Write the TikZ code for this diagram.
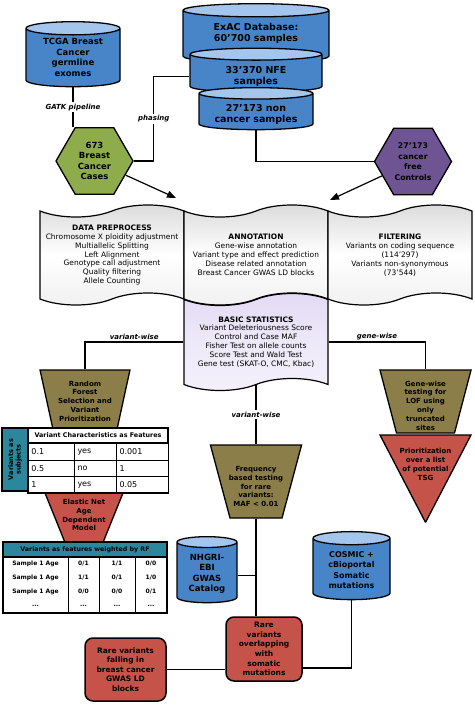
\documentclass[tikz,border=0pt]{standalone}
\usepackage{fontspec}
\setmainfont{DejaVu Sans}
\usepackage{tikz}
\usetikzlibrary{shapes.geometric,shapes.symbols,matrix,arrows.meta,calc}

\definecolor{canblue}{RGB}{72,133,200}
\definecolor{cantop}{RGB}{165,198,236}
\definecolor{casegreen}{RGB}{142,172,76}
\definecolor{ctrlpurple}{RGB}{110,84,146}
\definecolor{olivebox}{RGB}{139,126,72}
\definecolor{redbox}{RGB}{198,83,74}
\definecolor{tealcell}{RGB}{44,134,156}
\definecolor{tapegray}{RGB}{218,218,218}
\definecolor{lavender}{RGB}{226,218,244}

\begin{document}
\begin{tikzpicture}[x=1pt,y=1pt,yscale=-1,xscale=1,
	can/.style={cylinder, shape border rotate=90, draw=black, line width=1.3pt, cylinder uses custom fill, cylinder body fill=canblue, cylinder end fill=cantop, inner ysep=1pt},
	cantext/.style={align=center, inner sep=0pt, font=\bfseries\fontsize{8.5}{10.5}\selectfont},
	hexa/.style={regular polygon, regular polygon sides=6, minimum size=77pt, draw=black, line width=1.3pt, align=center, inner sep=0pt, font=\bfseries\fontsize{8.5}{10.5}\selectfont},
	banner/.style={tape, draw=black, line width=1.2pt, tape bend height=12pt, minimum width=144pt, minimum height=100pt, top color=tapegray, bottom color=tapegray!40, middle color=white, align=center, inner sep=0pt, font=\fontsize{7.5}{8.9}\selectfont},
	funnel/.style={trapezium, shape border rotate=180, draw=black, line width=1.3pt, fill=olivebox},
	funneltext/.style={align=center, inner sep=0pt, font=\bfseries\fontsize{7}{8.8}\selectfont},
	resultbox/.style={rectangle, rounded corners=8pt, draw=black, line width=1.5pt, fill=redbox, align=center, inner sep=0pt, font=\bfseries\fontsize{7.5}{9.6}\selectfont},
	conn/.style={draw=black, line width=1.2pt},
	arr/.style={conn, -{Triangle[length=9pt,width=7pt]}},
	lbl/.style={fill=white, inner sep=1.5pt, font=\bfseries\itshape\fontsize{7}{8}\selectfont},
	]
	\useasboundingbox (0,0) rectangle (474,706);
	
	%Shape: Can
	\node[can, inner xsep=47pt, aspect=0.14, minimum height=65pt, label={[cantext, yshift=3.6pt]center:TCGA Breast\\Cancer\\germline\\exomes}] (tcga) at (73,61.1) {};
	%Shape: Can
	\node[can, inner xsep=73pt, aspect=0.09, minimum height=59pt, label={[cantext, yshift=6.6pt, font=\bfseries\fontsize{9.5}{11.5}\selectfont]center:ExAC Database:\\60’700 samples}] (exac) at (256,40.1) {};
	%Shape: Can
	\node[can, inner xsep=66pt, aspect=0.09, minimum height=44pt, label={[cantext, font=\bfseries\fontsize{9.5}{11.5}\selectfont]center:33’370 NFE\\samples}] (nfe) at (256,76.5) {};
	%Shape: Can
	\node[can, inner xsep=57pt, aspect=0.1, minimum height=42pt, label={[cantext, font=\bfseries\fontsize{9.5}{11.5}\selectfont]center:27’173 non\\cancer samples}] (nonc) at (256,114.7) {};
	
	%Shape: Hexagon
	\node[hexa, fill=casegreen] (cases) at (94.5,161) {673\\Breast\\Cancer\\Cases};
	%Shape: Hexagon
	\node[hexa, fill=ctrlpurple, font=\bfseries\fontsize{7.8}{10.5}\selectfont] (ctrls) at (413,161.5) {27’173\\cancer\\free\\Controls};
	\coordinate (casein) at (176,198);
	\coordinate (ctrlin) at (330,200);
	
	% Connection
	\draw[conn] (tcga.south) -- (tcga.south |- cases.north) node[lbl, midway] {GATK pipeline};
	% Connection
	\draw[conn] (cases.east) -- ++(20,0) |- (nfe.west) node[lbl, pos=0.25] {phasing};
	% Connection
	\draw[conn] (nonc.south) |- (ctrls.west);
	% Connection
	\draw[arr] (cases) -- (casein);
	% Connection
	\draw[arr] (ctrls) -- (ctrlin);
	
	%Shape: Tape
	\node[banner] (prep) at (112,255) {\textbf{DATA PREPROCESS}\\Chromosome X ploidity adjustment\\Multiallelic Splitting\\Left Alignment\\Genotype call adjustment\\Quality filtering\\Allele Counting};
	%Shape: Tape
	\node[banner] (annot) at (256,255) {\textbf{ANNOTATION}\\Gene-wise annotation\\Variant type and effect prediction\\Disease related annotation\\Breast Cancer GWAS LD blocks};
	%Shape: Tape
	\node[banner] (filt) at (400,255) {\textbf{FILTERING}\\Variants on coding sequence\\(114’297)\\Variants non-synonymous\\(73’544)};
	%Shape: Tape
	\node[banner, minimum height=97pt, top color=lavender, bottom color=lavender!40, middle color=lavender!60] (stats) at (256,342) {\textbf{BASIC STATISTICS}\\Variant Deleteriousness Score\\Control and Case MAF\\Fisher Test on allele counts\\Score Test and Wald Test\\Gene test (SKAT-O, CMC, Kbac)};
	
	%Shape: Trapezoid
	\node[funnel, inner xsep=32.3pt, inner ysep=29pt, trapezium left angle=77.7, trapezium right angle=77.7, label={[funneltext, yshift=-2pt]center:Random\\Forest\\Selection and\\Variant\\Prioritization}] (rf) at (85,399) {};
	%Shape: Trapezoid
	\node[funnel, fill=redbox, inner xsep=19.2pt, inner ysep=27pt, trapezium left angle=68, trapezium right angle=68, label={[funneltext]center:Elastic Net\\Age\\Dependent\\Model}] (enet) at (84,515) {};
	%Shape: Trapezoid
	\node[funnel, inner xsep=26pt, inner ysep=36.5pt, trapezium left angle=75, trapezium right angle=75, label={[funneltext, yshift=-5pt]center:Frequency\\based testing\\for rare\\variants:\\MAF < 0.01}] (freq) at (256,481.5) {};
	%Shape: Trapezoid
	\node[funnel, inner xsep=29pt, inner ysep=31.5pt, trapezium left angle=75.3, trapezium right angle=75.3, label={[funneltext, yshift=-4pt]center:Gene-wise\\testing for\\LOF using\\only\\truncated\\sites}] (genew) at (425.5,401.5) {};
	%Shape: Triangle
	\node[funnel, fill=redbox, inner xsep=0.2pt, inner ysep=43.5pt, trapezium left angle=62.5, trapezium right angle=62.5, label={[funneltext, yshift=14pt]center:Prioritization\\over a list\\of potential\\TSG}] (prio) at (425.5,478.5) {};
	
	% Connection
	\draw[conn] (stats.west) -| (rf) node[lbl, pos=0.25, above] {variant-wise};
	% Connection
	\draw[conn] (stats.east) -| (genew) node[lbl, pos=0.25, above] {gene-wise};
	% Connection
	\draw[conn] (stats.south) -- (freq) node[lbl, midway] {variant-wise};
	
	%Table: features
	\node[draw=black, line width=1.3pt, fill=tealcell, minimum width=63pt, minimum height=26pt, inner sep=0pt, outer sep=0pt, rotate=90, align=center, font=\bfseries\fontsize{6.5}{7.5}\selectfont] (vsubj) at (15,459.5) {Variants as\\subjects};
	\node[draw=black, line width=1.3pt, fill=white, minimum width=140pt, minimum height=15pt, inner sep=0pt, outer sep=0pt, font=\bfseries\fontsize{6.4}{7}\selectfont] (vchead) at (98,435.5) {Variant Characteristics as Features};
	\matrix[matrix of nodes, anchor=north west, inner sep=0pt, outer sep=0pt, column sep=-1pt, row sep=-1pt, nodes={draw=black, line width=1pt, fill=white, minimum height=16.5pt, inner xsep=3pt, anchor=center, align=left, font=\fontsize{8}{9}\selectfont}, column 1/.style={nodes={text width=40pt}}, column 2/.style={nodes={text width=36pt}}, column 3/.style={nodes={text width=46pt}}] (vcm) at (vchead.south west) {
		0.1 & yes & 0.001 \\
		0.5 & no & 1 \\
		1 & yes & 0.05 \\
	};
	\draw[line width=1.5pt] (vchead.north west) rectangle (vcm-3-3.south east);
	
	%Table: weighted
	\node[draw=black, line width=1.3pt, fill=tealcell, minimum width=164pt, minimum height=15pt, inner sep=0pt, outer sep=0pt, font=\bfseries\fontsize{6.3}{7}\selectfont] (wfhead) at (85,549.5) {Variants as features weighted by RF};
	\matrix[matrix of nodes, anchor=north west, draw=black, line width=1.3pt, fill=white, inner sep=0pt, outer sep=0pt, nodes={minimum height=14pt, inner sep=0pt, anchor=center, font=\bfseries\fontsize{6}{7}\selectfont}, column 1/.style={nodes={minimum width=65pt}}, column 2/.style={nodes={minimum width=31pt}}, column 3/.style={nodes={minimum width=36pt}}, column 4/.style={nodes={minimum width=32pt}}] (wfm) at (wfhead.south west) {
		Sample 1 Age & 0/1 & 1/1 & 0/0 \\
		Sample 1 Age & 1/1 & 0/1 & 1/0 \\
		Sample 1 Age & 0/0 & 0/0 & 0/1 \\
		... & ... & ... & ... \\
	};
	\foreach \c in {2,3,4}
	\draw[line width=1pt] (wfm-1-\c.north west) -- (wfm-4-\c.south west);
	
	%Shape: Can
	\node[can, inner xsep=30pt, aspect=0.18, minimum height=66pt, label={[cantext, yshift=1.4pt]center:NHGRI-\\EBI\\GWAS\\Catalog}] (nhgri) at (207,575.4) {};
	%Shape: Can
	\node[can, inner xsep=38.5pt, aspect=0.17, minimum height=68pt, label={[cantext, yshift=2.5pt, font=\bfseries\fontsize{8}{10.5}\selectfont]center:COSMIC +\\cBioportal\\Somatic\\mutations}] (cosmic) at (351.5,572.5) {};
	
	%Shape: Rounded Rect
	\node[resultbox, minimum width=76pt, minimum height=64pt] (rareov) at (264,649) {Rare\\variants\\overlapping\\with\\somatic\\mutations};
	%Shape: Rounded Rect
	\node[resultbox, minimum width=81pt, minimum height=63pt] (rarefall) at (125.5,669.5) {Rare variants\\falling in\\breast cancer\\GWAS LD\\blocks};
	
	% Connection
	\draw[conn] (freq.south) -- (freq.south |- rareov.north);
	% Connection
	\draw[conn] (nhgri.east) -- (nhgri.east -| freq.south);
	% Connection
	\draw[conn] (cosmic.south) |- ($(rareov.east)+(0,19)$);
	% Connection
	\draw[conn] (rarefall.east) -- (rarefall.east -| rareov.west);
\end{tikzpicture}
\end{document}
